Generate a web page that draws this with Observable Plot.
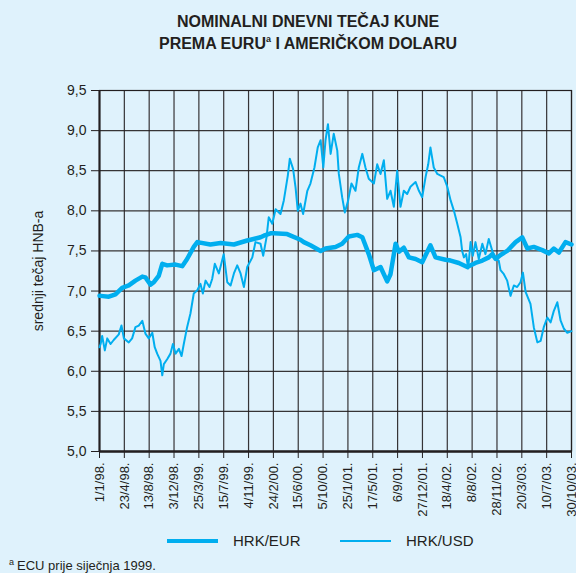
<!DOCTYPE html>
<html><head><meta charset="utf-8">
<script src="https://cdn.jsdelivr.net/npm/d3@7"></script>
<script src="https://cdn.jsdelivr.net/npm/@observablehq/plot@0.6"></script>
<style>
body{margin:0;background:#dff2fc;}
#wrap{position:relative;width:576px;height:573px;background:#dff2fc;font-family:"Liberation Sans",Arial,sans-serif;color:#231f20;overflow:hidden}
#title{position:absolute;left:0;width:616px;top:11px;text-align:center;font-weight:bold;font-size:16px;line-height:22px}
#title sup{font-size:9px;vertical-align:7px;line-height:0}
#chart{position:absolute;left:0;top:0}
.leg{position:absolute;font-size:15px;line-height:18px}
.sw{position:absolute;background:#00aeef}
#foot{position:absolute;left:9px;top:558px;font-size:13px;line-height:15px}
#foot sup{font-size:9px;vertical-align:5px;line-height:0;margin-right:3px}
</style></head><body><div id="wrap">
<div id="title">NOMINALNI DNEVNI TEČAJ KUNE<br>PREMA EURU<sup>a</sup> I AMERIČKOM DOLARU</div>
<div id="chart"></div>
<div class="sw" style="left:167px;top:539px;width:51px;height:4px"></div>
<div class="leg" style="left:233px;top:532px">HRK/EUR</div>
<div class="sw" style="left:340px;top:540px;width:51px;height:2px"></div>
<div class="leg" style="left:406px;top:532px">HRK/USD</div>
<div id="foot"><sup>a</sup>ECU prije siječnja 1999.</div>
</div>
<script>
const tickLabels = ["1/1/98.","23/4/98.","13/8/98.","3/12/98.","25/3/99.","15/7/99.","4/11/99.","24/2/00.","15/6/00.","5/10/00.","25/1/01.","17/5/01.","6/9/01.","27/12/01.","18/4/02.","8/8/02.","28/11/02.","20/3/03.","10/7/03.","30/10/03."];
const yTicks = [5, 5.5, 6, 6.5, 7, 7.5, 8, 8.5, 9, 9.5];
const seriesNames = ["HRK/EUR", "HRK/USD"];

// days after 1 Jan 1998
const eurDays = [0,5,42,72,102,132,162,193,207,230,245,267,283,305,343,373,395,425,441,500,546,576,606,666,681,726,741,771,786,846,906,921,951,997,1019,1064,1094,1124,1162,1185,1214,1237,1267,1297,1312,1335,1350,1372,1395,1425,1455,1492,1515,1560,1583,1620,1658,1695,1726,1755,1771,1786,1808,1838,1876,1906,1929,1958,1996,2026,2048,2071,2101,2128];
const eurValues = [6.94,6.94,6.93,6.96,7.04,7.07,7.13,7.18,7.17,7.08,7.11,7.19,7.34,7.32,7.33,7.31,7.40,7.55,7.61,7.58,7.60,7.59,7.58,7.63,7.64,7.67,7.69,7.72,7.72,7.71,7.64,7.61,7.57,7.50,7.53,7.55,7.59,7.68,7.70,7.67,7.46,7.26,7.30,7.12,7.21,7.59,7.49,7.54,7.42,7.40,7.36,7.57,7.42,7.39,7.38,7.35,7.30,7.35,7.38,7.42,7.46,7.40,7.45,7.50,7.61,7.67,7.53,7.55,7.51,7.47,7.53,7.48,7.61,7.58];

const usdDays = [0,5,12,24,35,50,64,87,99,110,132,147,162,177,193,207,222,238,249,260,275,283,290,305,320,331,343,358,370,380,395,410,425,441,455,466,478,496,508,520,538,560,576,591,606,621,636,651,666,689,703,726,738,753,763,779,794,816,831,849,858,873,884,894,906,918,937,951,969,984,997,1009,1019,1030,1042,1056,1072,1079,1094,1106,1121,1136,1154,1169,1185,1199,1214,1237,1252,1267,1282,1297,1312,1327,1342,1357,1372,1387,1402,1425,1440,1455,1470,1482,1492,1507,1523,1538,1552,1568,1583,1598,1613,1628,1635,1643,1653,1662,1673,1683,1695,1710,1726,1740,1755,1771,1786,1800,1808,1823,1838,1853,1868,1883,1898,1909,1921,1943,1958,1974,1989,2003,2019,2034,2048,2064,2079,2094,2109,2128];
const usdValues = [6.30,6.34,6.44,6.26,6.41,6.34,6.39,6.46,6.57,6.41,6.36,6.41,6.55,6.57,6.63,6.47,6.41,6.48,6.30,6.22,6.13,5.95,6.09,6.15,6.22,6.34,6.22,6.28,6.19,6.34,6.55,6.72,6.97,7.01,7.09,6.97,7.13,7.05,7.15,7.34,7.22,7.46,7.11,7.07,7.22,7.32,7.22,7.05,7.30,7.42,7.61,7.59,7.44,7.67,7.92,7.84,8.02,7.96,8.13,8.44,8.65,8.52,8.29,8.00,8.09,7.96,8.25,8.34,8.54,8.79,8.88,8.54,8.88,9.08,8.71,8.96,8.75,8.46,8.17,7.98,8.13,8.34,8.25,8.54,8.71,8.54,8.40,8.34,8.58,8.46,8.63,8.15,8.25,8.05,8.50,8.05,8.25,8.21,8.30,8.36,8.25,8.17,8.42,8.58,8.79,8.54,8.46,8.44,8.42,8.30,8.13,8.00,7.84,7.67,7.50,7.42,7.46,7.28,7.61,7.44,7.61,7.40,7.59,7.46,7.65,7.50,7.40,7.38,7.26,7.21,7.13,6.94,7.07,7.05,7.11,7.23,6.99,6.84,6.55,6.36,6.38,6.55,6.67,6.61,6.75,6.86,6.63,6.53,6.48,6.50];

const start = new Date(Date.UTC(1998, 0, 1));
const toDate = d => d3.utcDay.offset(start, d);
const parseLabel = s => { const [d, m, y] = s.replace(".", "").split("/").map(Number); return new Date(Date.UTC(y < 50 ? 2000 + y : 1900 + y, m - 1, d)); };
const tickDates = tickLabels.map(parseLabel);
const labelOf = new Map(tickDates.map((d, i) => [+d, tickLabels[i]]));

const eur = eurDays.map((d, i) => ({date: toDate(d), v: eurValues[i], s: seriesNames[0]}));
const usd = usdDays.map((d, i) => ({date: toDate(d), v: usdValues[i], s: seriesNames[1]}));
const fmt = v => v.toFixed(1).replace(".", ",");
const ink = "#231f20";
const cyan = "#00aeef";

const chart = Plot.plot({
  width: 576,
  height: 530,
  marginTop: 90,
  marginBottom: 79,
  marginLeft: 99,
  marginRight: 5,
  style: {background: "transparent", fontFamily: "'Liberation Sans', Arial, sans-serif", color: ink, overflow: "visible"},
  x: {type: "utc", domain: [tickDates[0], tickDates[tickDates.length - 1]]},
  y: {domain: [5, 9.5]},
  marks: [
    Plot.gridX(tickDates, {stroke: ink, strokeOpacity: 0.9, strokeWidth: 1.2}),
    Plot.gridY(yTicks, {stroke: ink, strokeOpacity: 0.9, strokeWidth: 1.2}),
    Plot.frame({stroke: ink, strokeWidth: 1.2}),
    Plot.axisX({ticks: tickDates, tickFormat: d => labelOf.get(+d), tickRotate: -90, tickSize: 7, tickPadding: 4, fontSize: 13, label: null, stroke: ink}),
    Plot.axisY({ticks: yTicks, tickFormat: fmt, tickSize: 8, tickPadding: 5, fontSize: 14, label: null, stroke: ink}),
    Plot.ruleY([5], {stroke: ink, strokeWidth: 2.5}),
    Plot.ruleX([tickDates[0]], {stroke: ink, strokeWidth: 2}),
    Plot.text(["srednji tečaj HNB-a"], {frameAnchor: "left", textAnchor: "middle", dx: -61, rotate: -90, fontSize: 14, fill: ink}),
    Plot.line(usd, {x: "date", y: "v", stroke: cyan, strokeWidth: 2, strokeLinejoin: "round"}),
    Plot.line(eur, {x: "date", y: "v", stroke: cyan, strokeWidth: 4.5, strokeLinejoin: "round"})
  ]
});
document.getElementById("chart").appendChild(chart);
</script>
</body></html>
